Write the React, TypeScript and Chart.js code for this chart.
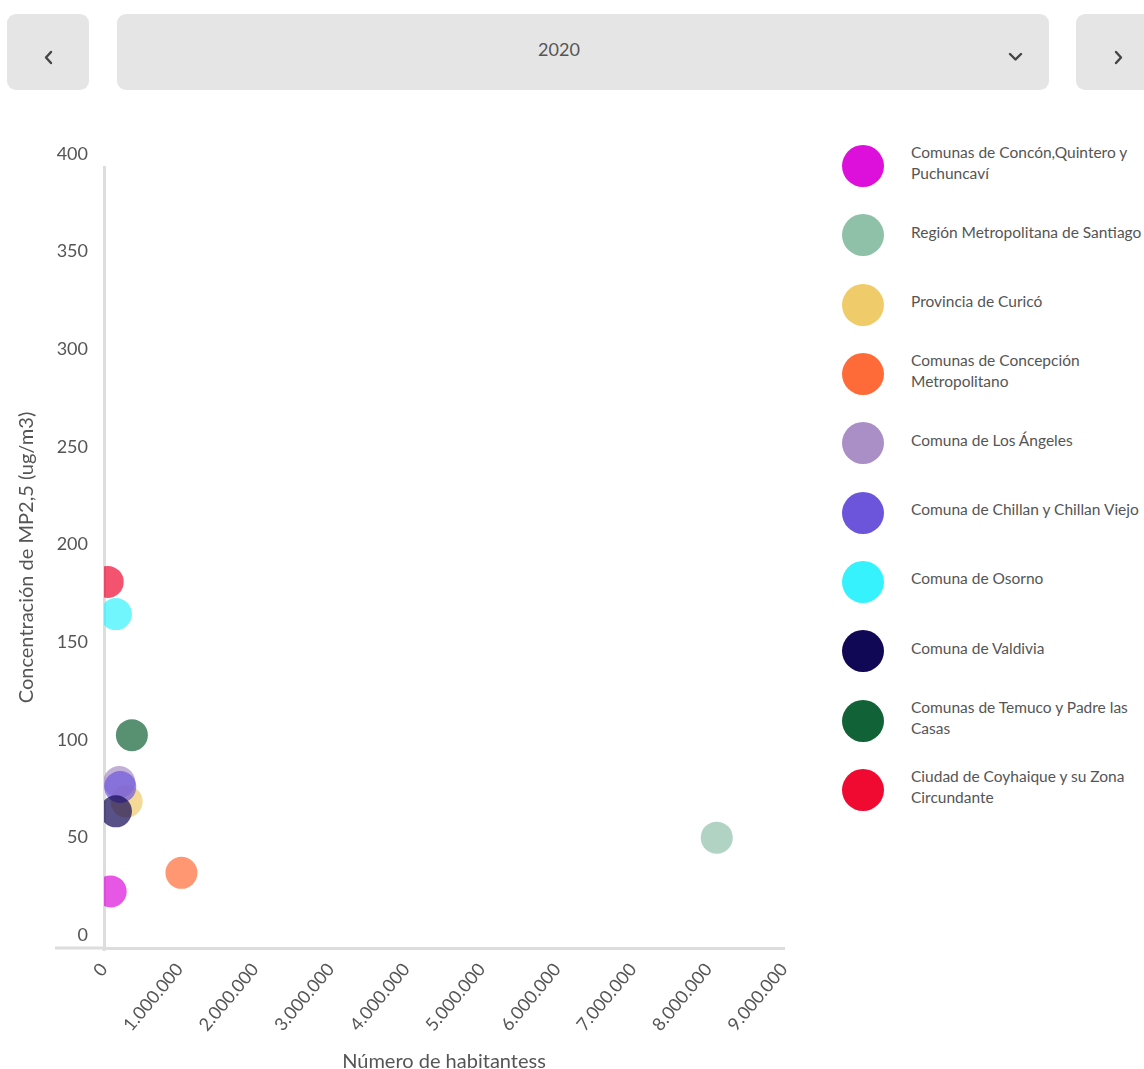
import React, { useEffect, useRef } from 'react';
import { Chart, registerables } from 'chart.js';

Chart.register(...registerables);

const regionNames = [
  'Comunas de Concón,Quintero y Puchuncaví',
  'Región Metropolitana de Santiago',
  'Provincia de Curicó',
  'Comunas de Concepción Metropolitano',
  'Comuna de Los Ángeles',
  'Comuna de Chillan y Chillan Viejo',
  'Comuna de Osorno',
  'Comuna de Valdivia',
  'Comunas de Temuco y Padre las Casas',
  'Ciudad de Coyhaique y su Zona Circundante',
];

const legendLines = [
  ['Comunas de Concón,Quintero y', 'Puchuncaví'],
  ['Región Metropolitana de Santiago'],
  ['Provincia de Curicó'],
  ['Comunas de Concepción', 'Metropolitano'],
  ['Comuna de Los Ángeles'],
  ['Comuna de Chillan y Chillan Viejo'],
  ['Comuna de Osorno'],
  ['Comuna de Valdivia'],
  ['Comunas de Temuco y Padre las', 'Casas'],
  ['Ciudad de Coyhaique y su Zona', 'Circundante'],
];

const population = [88000, 8110000, 300000, 1025000, 202000, 215000, 158000, 158000, 369000, 49000];
const concentration = [29, 56.5, 75, 38.5, 85, 82.5, 171, 70, 109, 187.5];

const colors = [
  '#DD0FDB',
  '#8FC1A9',
  '#F0CB69',
  '#FF6B38',
  '#AA8FC6',
  '#6D55DB',
  '#36F2FD',
  '#100755',
  '#116236',
  '#F00A32',
];

const xTickValues = [0, 1000000, 2000000, 3000000, 4000000, 5000000, 6000000, 7000000, 8000000, 9000000];
const yTickValues = [0, 50, 100, 150, 200, 250, 300, 350, 400];
const selectedYear = '2020';

function withAlpha(hex: string, a: number) {
  const r = parseInt(hex.slice(1, 3), 16);
  const g = parseInt(hex.slice(3, 5), 16);
  const b = parseInt(hex.slice(5, 7), 16);
  return `rgba(${r},${g},${b},${a})`;
}

function formatThousands(v: number | string) {
  return String(v).replace(/\B(?=(\d{3})+(?!\d))/g, '.');
}

const axisExtension = {
  id: 'axisExtension',
  afterDraw(chart: any) {
    const { ctx, chartArea } = chart;
    ctx.save();
    ctx.fillStyle = '#dddddd';
    ctx.fillRect(chartArea.left - 49, chartArea.bottom - 1.5, 49, 3);
    ctx.fillRect(chartArea.left - 1.5, chartArea.bottom, 3, 3);
    ctx.restore();
  },
};

const boxStyle = (left: number, top: number, width: number, height: number): React.CSSProperties => ({
  position: 'absolute',
  left,
  top,
  width,
  height,
  background: '#E5E5E5',
  borderRadius: 9,
});

export default function App() {
  const canvasRef = useRef<HTMLCanvasElement>(null);

  useEffect(() => {
    const canvas = canvasRef.current;
    if (!canvas) return;
    const chart = new Chart(canvas, {
      type: 'scatter',
      data: {
        datasets: regionNames.map((name, i) => ({
          label: name,
          data: [{ x: population[i], y: concentration[i] }],
          backgroundColor: withAlpha(colors[i], 0.7),
          borderWidth: 0,
          pointRadius: 16,
          pointHoverRadius: 16,
          order: regionNames.length - i,
        })),
      },
      options: {
        responsive: false,
        animation: false,
        layout: { padding: { top: 57, right: 12, bottom: 0, left: 0 } },
        plugins: { legend: { display: false }, tooltip: { enabled: false } },
        scales: {
          x: {
            type: 'linear',
            min: 0,
            max: 9000000,
            grid: { display: false, drawTicks: false },
            border: { display: true, color: '#dddddd', width: 3 },
            afterBuildTicks: (s: any) => {
              s.ticks = xTickValues.map((v) => ({ value: v }));
            },
            ticks: {
              autoSkip: false,
              minRotation: 50,
              maxRotation: 50,
              padding: 11,
              color: '#555555',
              font: { family: 'Lato', size: 18 },
              callback: (v: any) => formatThousands(v),
            },
            title: {
              display: true,
              text: 'Número de habitantess',
              color: '#555555',
              font: { family: 'Lato', size: 20 },
              padding: { top: 0, bottom: 6 },
            },
            afterFit: (s: any) => {
              s.height = 132;
              s.paddingLeft = 0;
              s.paddingRight = 0;
            },
          },
          y: {
            type: 'linear',
            min: 0,
            max: 400,
            grid: { display: false, drawTicks: false },
            border: { display: true, color: '#dddddd', width: 3 },
            afterBuildTicks: (s: any) => {
              s.ticks = yTickValues.map((v) => ({ value: v }));
            },
            ticks: {
              padding: 16,
              labelOffset: -13,
              color: '#555555',
              font: { family: 'Lato', size: 18 },
            },
            title: {
              display: true,
              text: 'Concentración de MP2,5 (ug/m3)',
              color: '#555555',
              font: { family: 'Lato', size: 20 },
              padding: { top: 15, bottom: 0 },
            },
            afterFit: (s: any) => {
              s.width = 104;
              s.paddingTop = 0;
              s.paddingBottom = 0;
            },
          },
        },
      },
      plugins: [axisExtension],
    } as any);
    return () => chart.destroy();
  }, []);

  const chevron = (points: string, left: number, top: number, w: number, h: number) => (
    <svg
      width={w}
      height={h}
      style={{ position: 'absolute', left, top }}
      viewBox={`0 0 ${w} ${h}`}
    >
      <polyline points={points} fill="none" stroke="#444444" strokeWidth={2.4} strokeLinecap="round" strokeLinejoin="round" />
    </svg>
  );

  return (
    <div
      style={{
        position: 'fixed',
        left: 0,
        top: 0,
        width: 1144,
        height: 1069,
        overflow: 'hidden',
        background: '#ffffff',
        fontFamily: 'Lato, sans-serif',
      }}
    >
      <div style={boxStyle(7, 14, 82, 76)}>
        {chevron('7,2 2,7.5 7,13', 37, 36, 10, 15)}
      </div>
      <div style={boxStyle(117, 14, 932, 76)}>
        <div
          style={{
            position: 'absolute',
            left: 0,
            width: 884,
            top: 23,
            textAlign: 'center',
            fontSize: 18,
            lineHeight: '24px',
            color: '#555555',
          }}
        >
          {selectedYear}
        </div>
        {chevron('2,2 7.5,7.5 13,2', 891, 38, 15, 10)}
      </div>
      <div style={boxStyle(1076, 14, 82, 76)}>
        {chevron('2,2 7,7.5 2,13', 38, 36, 10, 15)}
      </div>

      <canvas
        ref={canvasRef}
        width={800}
        height={970}
        style={{ position: 'absolute', left: 0, top: 110, width: 800, height: 970 }}
      />

      <div style={{ position: 'absolute', left: 842, top: 131.3, width: 400 }}>
        {legendLines.map((lines, i) => (
          <div
            key={i}
            style={{ height: 69.33, display: 'flex', alignItems: 'center' }}
          >
            <div
              style={{
                width: 42,
                height: 42,
                borderRadius: '50%',
                background: colors[i],
                flex: '0 0 auto',
              }}
            />
            <div
              style={{
                marginLeft: 27,
                position: 'relative',
                top: -3,
                fontSize: 15.5,
                lineHeight: '21px',
                color: '#555555',
                whiteSpace: 'nowrap',
              }}
            >
              {lines.map((l, j) => (
                <div key={j}>{l}</div>
              ))}
            </div>
          </div>
        ))}
      </div>
    </div>
  );
}
